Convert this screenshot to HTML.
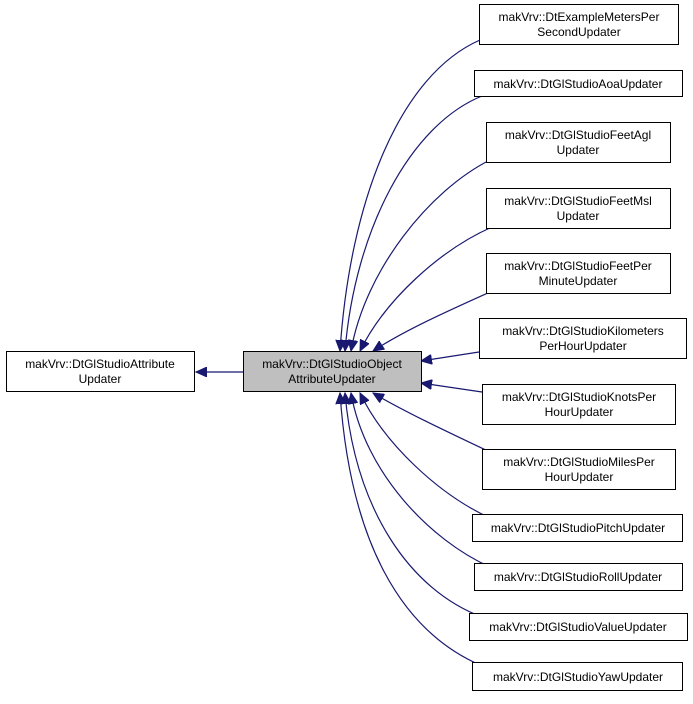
<!DOCTYPE html>
<html><head><meta charset="utf-8"><style>
body{margin:0;background:#fff;width:693px;height:699px;overflow:hidden}
text{font-family:"Liberation Sans",sans-serif;font-size:12px;fill:#000}
</style></head><body>
<svg width="693" height="699" xmlns="http://www.w3.org/2000/svg">
<defs><marker id="a" markerWidth="12" markerHeight="10" refX="11" refY="5" orient="auto" markerUnits="userSpaceOnUse"><polygon points="0,0 11,5 0,10" fill="#191970" stroke="#191970"/></marker></defs>
<g fill="none" stroke="#191970" stroke-width="1.2" marker-end="url(#a)">
<path d="M243,372 L196,372"/>
<path d="M480,40 C400,75 350,200 340,351"/>
<path d="M482,96 C410,125 355,230 345,351"/>
<path d="M490,160 C430,190 365,270 351,351"/>
<path d="M492,227 C440,250 385,300 360,351"/>
<path d="M490,292 C450,310 405,330 373,351"/>
<path d="M479,352 L421,361"/>
<path d="M482,392 L421,383"/>
<path d="M490,452 C450,433 405,412 373,393"/>
<path d="M490,518 C440,495 385,445 360,393"/>
<path d="M490,567 C430,540 365,473 351,393"/>
<path d="M482,617 C410,590 355,510 345,393"/>
<path d="M480,665 C400,630 350,540 340,393"/>
</g>
<g stroke="#000" stroke-width="1" fill="#fff">
<rect x="6.5" y="351.5" width="188" height="40"/>
<rect x="243.5" y="351.5" width="178" height="40" fill="#bfbfbf"/>
<rect x="479.5" y="4.5" width="199" height="40"/>
<rect x="474.5" y="70.5" width="208" height="26"/>
<rect x="486.5" y="122.5" width="184" height="40"/>
<rect x="486.5" y="188.5" width="184" height="40"/>
<rect x="486.5" y="253.5" width="184" height="40"/>
<rect x="479.5" y="318.5" width="207" height="40"/>
<rect x="482.5" y="384.5" width="193" height="40"/>
<rect x="482.5" y="449.5" width="193" height="40"/>
<rect x="472.5" y="514.5" width="210" height="27"/>
<rect x="474.5" y="563.5" width="208" height="27"/>
<rect x="469.5" y="613.5" width="218" height="27"/>
<rect x="472.5" y="662.5" width="210" height="28"/>
</g>
<g text-anchor="middle">
<text x="100" y="368">makVrv::DtGlStudioAttribute</text><text x="100" y="383">Updater</text>
<text x="332" y="368">makVrv::DtGlStudioObject</text><text x="332" y="383">AttributeUpdater</text>
<text x="579" y="21">makVrv::DtExampleMetersPer</text><text x="579" y="36">SecondUpdater</text>
<text x="578" y="88">makVrv::DtGlStudioAoaUpdater</text>
<text x="578" y="139">makVrv::DtGlStudioFeetAgl</text><text x="578" y="154">Updater</text>
<text x="578" y="205">makVrv::DtGlStudioFeetMsl</text><text x="578" y="220">Updater</text>
<text x="578" y="270">makVrv::DtGlStudioFeetPer</text><text x="578" y="285">MinuteUpdater</text>
<text x="583" y="335">makVrv::DtGlStudioKilometers</text><text x="583" y="350">PerHourUpdater</text>
<text x="579" y="401">makVrv::DtGlStudioKnotsPer</text><text x="579" y="416">HourUpdater</text>
<text x="579" y="466">makVrv::DtGlStudioMilesPer</text><text x="579" y="481">HourUpdater</text>
<text x="578" y="532">makVrv::DtGlStudioPitchUpdater</text>
<text x="578" y="581">makVrv::DtGlStudioRollUpdater</text>
<text x="578" y="631">makVrv::DtGlStudioValueUpdater</text>
<text x="578" y="681">makVrv::DtGlStudioYawUpdater</text>
</g>
</svg>
</body></html>
